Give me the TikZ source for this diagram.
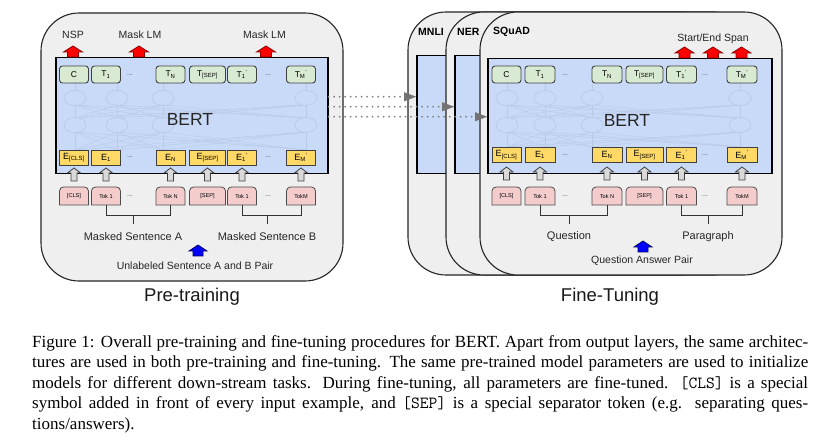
\documentclass[tikz,border=0pt]{standalone}
\usepackage{fontspec}
\setmainfont{Liberation Sans}
\newfontfamily\capfont{Liberation Serif}
\usetikzlibrary{arrows.meta}

\definecolor{panelgray}{HTML}{EFEFEF}
\definecolor{bertblue}{HTML}{C9DAF8}
\definecolor{netblue}{HTML}{B9C9E8}
\definecolor{tgreen}{HTML}{D9EAD3}
\definecolor{eyellow}{HTML}{FFD966}
\definecolor{tokpink}{HTML}{F4CCCC}
\definecolor{arrowgray}{HTML}{D9D9D9}

\tikzset{
  panel/.style={draw=black!85, fill=panelgray, line width=1.1pt, rounded corners=38pt},
  bertbox/.style={draw=black, fill=bertblue, line width=1.5pt, inner sep=0pt, anchor=north west},
  netline/.style={draw=netblue, line width=0.45pt},
  netnode/.style={draw=netblue, fill=bertblue, line width=0.7pt},
  bertlabel/.style={font=\fontsize{17.5}{18}\selectfont, text=black!85},
  tbox/.style={draw=black!75, fill=tgreen, line width=0.9pt, rounded corners=3pt,
    minimum height=17pt, inner sep=0pt, font=\fontsize{8.5}{9}\selectfont},
  ebox/.style={draw=black!75, fill=eyellow, line width=0.8pt,
    minimum height=15pt, inner sep=0pt, font=\fontsize{9}{10}\selectfont},
  tokshape/.style={draw=black!70, fill=tokpink, line width=0.8pt},
  tokbox/.style={minimum height=18pt, inner sep=0pt, font=\fontsize{5.6}{6}\selectfont},
  dotsnode/.style={font=\fontsize{7}{7}\selectfont, text=black!70, inner sep=0pt},
  lbl/.style={font=\fontsize{11}{12}\selectfont, text=black!85},
  smalllbl/.style={font=\fontsize{10.5}{11}\selectfont, text=black!85},
  phase/.style={font=\fontsize{18.5}{20}\selectfont, text=black!90},
  task/.style={font=\bfseries\fontsize{10.5}{11}\selectfont, anchor=west, inner sep=0pt},
  bracket/.style={draw=black!80, line width=0.8pt},
  dotarrow/.style={draw=black!50, line width=2pt, line cap=round, dash pattern=on 0pt off 5.5pt,
    -{Triangle[length=12pt, width=9pt, line width=0.1pt, color=black!55]}},
  capline/.style={font=\capfont\fontsize{17}{20.5}\selectfont, anchor=base west, inner sep=0pt},
  pics/inarrow/.style={code={
    \draw[draw=black!75, fill=arrowgray, line width=0.8pt]
      (-3,0) -- (-3,-8) -- (-6.5,-8) -- (0,-13) -- (6.5,-8) -- (3,-8) -- (3,0) -- cycle;}},
  pics/outarrow/.style={code={
    \draw[draw=red!55!black, fill=red, line width=0.8pt]
      (-5.5,0) -- (-5.5,-5) -- (-9.5,-5) -- (0,-11) -- (9.5,-5) -- (5.5,-5) -- (5.5,0) -- cycle;}},
  pics/pairarrow/.style={code={
    \draw[draw=blue!40!black, fill=blue, line width=0.8pt]
      (-5,0) -- (-5,-5) -- (-9,-5) -- (0,-11) -- (9,-5) -- (5,-5) -- (5,0) -- cycle;}}
}

\begin{document}
\begin{tikzpicture}[x=1pt,y=-1pt]
  \useasboundingbox (0,0) rectangle (839,441);
  \fill[white] (0,0) rectangle (839,441);

  %% pre-training
  \draw[panel] (41,13) rectangle (343,281);
  \node[bertbox, minimum width=272pt, minimum height=116pt] (pBert) at (55,57) {};

  \foreach \x in {75,117,163,306} {
    \draw[netline] (\x,83) -- (\x,150);
    \foreach \y in {75,117,163,306} {
      \draw[netline] (\x,105) -- (\y,118);
      \draw[netline] (\x,132) -- (\y,150);
    }
  }
  \foreach \x in {75,117,163,306}
    \foreach \y in {98,125}
      \draw[netnode] (\x,\y) ellipse [x radius=11pt, y radius=7.5pt];
  \node[bertlabel] (pName) at (190,119) {BERT};

  \foreach \cx/\w/\tl/\el/\kl [count=\i] in {
      74/29/C/E\textsubscript{[CLS]}/[CLS],
      106/29/T\textsubscript{1}/E\textsubscript{1}/Tok 1,
      170.5/29/T\textsubscript{N}/E\textsubscript{N}/Tok N,
      207.5/36/T\textsubscript{[SEP]}/E\textsubscript{[SEP]}/[SEP],
      242/29/T\textsubscript{1}\textsuperscript{'}/E\textsubscript{1}\textsuperscript{'}/Tok 1,
      301/29/T\textsubscript{M}\textsuperscript{'}/E\textsubscript{M}\textsuperscript{'}/TokM} {
    \node[tbox, minimum width=\w pt] (pT\i) at (\cx,74.5) {\tl};
    \node[ebox, minimum width=\w pt] (pE\i) at (\cx,157.5) {\el};
    \draw[tokshape] ({\cx-\w/2},205) [rounded corners=4pt] -- ({\cx-\w/2},187)
      -- ({\cx+\w/2},187) [sharp corners] -- ({\cx+\w/2},205) -- cycle;
    \node[tokbox, minimum width=\w pt] (pK\i) at (\cx,196) {\kl};
    \pic at (pE\i.south |- 0,181) {inarrow};
  }
  \foreach \y [count=\j] in {75,157.5,196} {
    \node[dotsnode] (pDa\j) at (130,\y) {...};
    \node[dotsnode] (pDb\j) at (268,\y) {...};
  }

  \node[smalllbl] (pNsp) at (73,35) {NSP};
  \node[smalllbl] (pMlmA) at (140,35) {Mask LM};
  \node[smalllbl] (pMlmB) at (264.5,35) {Mask LM};
  \pic at (73,57) {outarrow};
  \pic at (139,57) {outarrow};
  \pic at (266,57) {outarrow};

  \node[lbl] (pSentA) at (133,237) {Masked Sentence A};
  \node[lbl] (pSentB) at (267,237) {Masked Sentence B};
  \draw[bracket] (pK2.south) -- ++(0,10) coordinate (pBrA) -| (pK3.south);
  \draw[bracket] (pBrA -| pSentA) -- ++(0,9);
  \draw[bracket] (pK5.south) -- ++(0,10) coordinate (pBrB) -| (pK6.south);
  \draw[bracket] (pBrB -| pSentB) -- ++(0,9);
  \pic at (198,256) {pairarrow};
  \node[smalllbl] (pPair) at (195,266) {Unlabeled Sentence A and B Pair};
  \node[phase] (pTitle) at (192,297) {Pre-training};

  %% fine-tuning
  \draw[panel] (408,12) rectangle (720,275);
  \node[bertbox, minimum width=290pt, minimum height=118pt] (mBert) at (416,55) {};
  \draw[panel] (446,12) rectangle (752,275);
  \node[bertbox, minimum width=280pt, minimum height=118pt] (nBert) at (454,55) {};
  \draw[panel] (480,12) rectangle (782,275);
  \node[bertbox, minimum width=284pt, minimum height=115pt] (fBert) at (487,58) {};
  \node[task] (mTask) at (418,32) {MNLI};
  \node[task] (nTask) at (457,32) {NER};
  \node[task] (fTask) at (493,32) {SQuAD};

  \foreach \x in {507,545,592,740} {
    \draw[netline] (\x,83) -- (\x,147);
    \foreach \y in {507,545,592,740} {
      \draw[netline] (\x,105) -- (\y,118);
      \draw[netline] (\x,132) -- (\y,147);
    }
  }
  \foreach \x in {507,545,592,740}
    \foreach \y in {98,125}
      \draw[netnode] (\x,\y) ellipse [x radius=11pt, y radius=7.5pt];
  \node[bertlabel] (fName) at (627,120) {BERT};

  \foreach \cx/\w/\tl/\el/\kl [count=\i] in {
      506.5/29/C/E\textsubscript{[CLS]}/[CLS],
      540/30/T\textsubscript{1}/E\textsubscript{1}/Tok 1,
      607/30/T\textsubscript{N}/E\textsubscript{N}/Tok N,
      644.5/37/T\textsubscript{[SEP]}/E\textsubscript{[SEP]}/[SEP],
      681.5/30/T\textsubscript{1}\textsuperscript{'}/E\textsubscript{1}\textsuperscript{'}/Tok 1,
      742/30/T\textsubscript{M}\textsuperscript{'}/E\textsubscript{M}\textsuperscript{'}/TokM} {
    \node[tbox, minimum width=\w pt] (fT\i) at (\cx,74.5) {\tl};
    \node[ebox, minimum width=\w pt] (fE\i) at (\cx,155) {\el};
    \draw[tokshape] ({\cx-\w/2},205) [rounded corners=4pt] -- ({\cx-\w/2},187)
      -- ({\cx+\w/2},187) [sharp corners] -- ({\cx+\w/2},205) -- cycle;
    \node[tokbox, minimum width=\w pt] (fK\i) at (\cx,196) {\kl};
    \pic at (fE\i.south |- 0,180) {inarrow};
  }
  \foreach \y [count=\j] in {75,155,196} {
    \node[dotsnode] (fDa\j) at (565,\y) {...};
    \node[dotsnode] (fDb\j) at (705,\y) {...};
  }

  \node[smalllbl] (fSpan) at (713,39) {Start/End Span};
  \pic at (684.5,58) {outarrow};
  \pic at (713,58) {outarrow};
  \pic at (741.5,58) {outarrow};

  \node[lbl] (fQuest) at (569,237) {Question};
  \node[lbl] (fPara) at (708,237) {Paragraph};
  \draw[bracket] (fK2.south) -- ++(0,10) coordinate (fBrA) -| (fK3.south);
  \draw[bracket] (fBrA -| fQuest) -- ++(0,9);
  \draw[bracket] (fK5.south) -- ++(0,10) coordinate (fBrB) -| (fK6.south);
  \draw[bracket] (fBrB -| fPara) -- ++(0,9);
  \pic at (643,252) {pairarrow};
  \node[smalllbl] (fPair) at (642,261) {Question Answer Pair};
  \node[phase] (fTitle) at (610,297) {Fine-Tuning};

  %% transfer
  \draw[dotarrow] ([yshift=19pt]pBert.east) -- ([yshift=19pt]pBert.east -| mBert.west);
  \draw[dotarrow] ([yshift=9pt]pBert.east) -- ([yshift=9pt]pBert.east -| nBert.west);
  \draw[dotarrow] ([yshift=-1pt]pBert.east) -- ([yshift=-1pt]pBert.east -| fBert.west);

  %% caption
  \node[capline] (cap1) at (32,347) {\makebox[776pt][s]{Figure 1: Overall pre-training and fine-tuning procedures for BERT. Apart from output layers, the same architec-}};
  \node[capline] (cap2) at (32,367.5) {\makebox[776pt][s]{tures are used in both pre-training and fine-tuning. The same pre-trained model parameters are used to initialize}};
  \node[capline] (cap3) at (32,388) {\makebox[776pt][s]{models for different down-stream tasks. During fine-tuning, all parameters are fine-tuned. \texttt{[CLS]} is a special}};
  \node[capline] (cap4) at (32,408.5) {\makebox[776pt][s]{symbol added in front of every input example, and \texttt{[SEP]} is a special separator token (e.g. separating ques-}};
  \node[capline] (cap5) at (32,429) {tions/answers).};
\end{tikzpicture}
\end{document}
